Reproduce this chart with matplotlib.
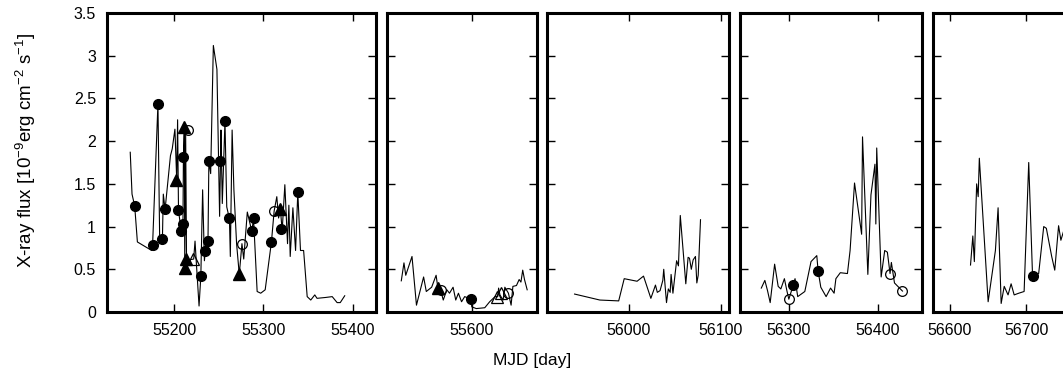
import numpy as np
import matplotlib
matplotlib.use('Agg')
import matplotlib.pyplot as plt

plt.rcParams['font.family'] = ['Liberation Sans', 'DejaVu Sans']
plt.rcParams['mathtext.fontset'] = 'custom'
plt.rcParams['mathtext.rm'] = 'Liberation Sans'
plt.rcParams['mathtext.default'] = 'regular'

# ---- panel 1 (55125-55425) ----
p1_line_mjd = [55151, 55153, 55156, 55159, 55175, 55176, 55182, 55184, 55187, 55188,
               55190, 55196, 55198, 55201, 55203, 55204, 55205, 55208, 55210, 55210.5,
               55211.5, 55212, 55213, 55214, 55217, 55222, 55223.5, 55225, 55228, 55230,
               55232, 55234, 55235, 55236, 55238, 55239, 55241, 55244, 55248, 55251,
               55252, 55252.5, 55254, 55257, 55259, 55262, 55263, 55265, 55267, 55270,
               55273, 55276, 55278, 55282, 55287, 55289, 55293, 55297, 55302, 55309,
               55312, 55315, 55317, 55319, 55321, 55324, 55327, 55328.5, 55330, 55333,
               55336, 55338.5, 55341.5, 55345, 55349, 55353, 55357.5, 55360, 55369.5, 55377,
               55382.5, 55386, 55391]
p1_line_flux = [1.87, 1.38, 1.24, 0.82, 0.72, 0.78, 2.44, 0.80, 0.85, 1.38,
                1.20, 1.83, 1.91, 2.14, 1.55, 2.25, 1.19, 0.95, 1.03, 1.82,
                2.15, 0.55, 2.10, 0.60, 0.61, 0.62, 0.83, 0.57, 0.07, 0.42,
                1.43, 0.60, 0.71, 0.88, 0.83, 1.77, 1.62, 3.12, 2.84, 1.12,
                1.77, 2.13, 1.27, 2.23, 1.23, 1.09, 0.65, 2.13, 1.43, 0.80,
                0.44, 0.80, 0.62, 1.17, 0.945, 1.09, 0.24, 0.22, 0.26, 0.82,
                1.18, 1.35, 1.10, 1.21, 0.95, 1.49, 0.80, 1.25, 0.65, 1.22,
                0.72, 1.40, 0.72, 0.72, 0.18, 0.14, 0.20, 0.16, 0.17, 0.18,
                0.11, 0.11, 0.19]
p1_fc_mjd = [55156, 55176, 55182, 55187, 55190, 55205, 55208, 55210, 55210.5, 55230,
             55235, 55238, 55239, 55252, 55257, 55262, 55287, 55289, 55309, 55320, 55338.5]
p1_fc_flux = [1.24, 0.78, 2.44, 0.85, 1.20, 1.19, 0.95, 1.03, 1.82, 0.42,
              0.71, 0.83, 1.77, 1.77, 2.23, 1.10, 0.945, 1.10, 0.82, 0.97, 1.40]
p1_oc_mjd = [55216, 55276, 55312]
p1_oc_flux = [2.13, 0.80, 1.18]
p1_ft_mjd = [55202.6, 55211.5, 55213, 55212.6, 55273, 55319]
p1_ft_flux = [1.55, 2.16, 0.62, 0.51, 0.44, 1.21]
p1_ot_mjd = [55221.5]
p1_ot_flux = [0.62]

# ---- panel 2 (55505-55673) ----
p2_line_mjd = [55521, 55524, 55526, 55533, 55538, 55546, 55549, 55555, 55560, 55562,
               55565, 55568, 55572, 55575, 55579, 55582, 55585, 55588.5, 55592, 55599,
               55600, 55605, 55614.5, 55620, 55626, 55629, 55630, 55631.5, 55635, 55637,
               55641, 55644, 55646, 55650, 55653, 55655, 55657, 55659, 55662]
p2_line_flux = [0.365, 0.575, 0.43, 0.65, 0.08, 0.41, 0.24, 0.29, 0.43, 0.28,
                0.26, 0.14, 0.26, 0.22, 0.29, 0.14, 0.22, 0.12, 0.18, 0.15,
                0.06, 0.04, 0.05, 0.12, 0.18, 0.18, 0.28, 0.20, 0.14, 0.29,
                0.22, 0.08, 0.30, 0.31, 0.38, 0.35, 0.49, 0.38, 0.26]
p2_fc_mjd = [55599]
p2_fc_flux = [0.15]
p2_oc_mjd = [55565, 55641]
p2_oc_flux = [0.26, 0.22]
p2_ft_mjd = [55562]
p2_ft_flux = [0.28]
p2_ot_mjd = [55628, 55633]
p2_ot_flux = [0.18, 0.22]

# ---- panel 3 (55911-56109) ----
p3_line_mjd = [55941, 55968.5, 55989, 55995, 56009, 56016, 56024, 56029, 56031, 56034,
               56037, 56038, 56041, 56043, 56045, 56046, 56048, 56052, 56054, 56056,
               56062, 56064.5, 56066, 56068, 56070, 56072.5, 56074, 56075.5, 56078]
p3_line_flux = [0.21, 0.14, 0.13, 0.39, 0.36, 0.42, 0.16, 0.315, 0.23, 0.25,
                0.37, 0.50, 0.11, 0.27, 0.23, 0.44, 0.22, 0.60, 0.54, 1.13,
                0.33, 0.64, 0.63, 0.50, 0.61, 0.65, 0.34, 0.43, 1.08]

# ---- panel 4 (56245-56450) ----
p4_line_mjd = [56269, 56273, 56276, 56279, 56284, 56288, 56291, 56295, 56298, 56300,
               56305, 56307, 56310, 56318, 56325, 56331.5, 56333, 56336, 56342, 56347,
               56351, 56353, 56358, 56366, 56369, 56374, 56382, 56383, 56389, 56392.5,
               56397, 56398, 56399, 56404, 56408, 56411, 56414, 56415.5, 56419, 56428]
p4_line_flux = [0.28, 0.37, 0.25, 0.11, 0.56, 0.30, 0.27, 0.39, 0.24, 0.15,
                0.315, 0.39, 0.18, 0.24, 0.59, 0.66, 0.48, 0.29, 0.18, 0.28,
                0.22, 0.39, 0.46, 0.45, 0.72, 1.51, 0.91, 2.05, 0.44, 1.37,
                1.73, 1.03, 1.92, 0.41, 0.72, 0.70, 0.45, 0.58, 0.34, 0.245]
p4_fc_mjd = [56305, 56333]
p4_fc_flux = [0.315, 0.48]
p4_oc_mjd = [56300, 56414, 56428]
p4_oc_flux = [0.15, 0.45, 0.245]

# ---- panel 5 (56578-...) ----
p5_line_mjd = [56627, 56630, 56632, 56635, 56637, 56638.5, 56650, 56659.5, 56663, 56667,
               56671, 56676, 56680, 56684, 56690, 56697, 56703, 56708, 56712, 56716,
               56722.6, 56726, 56733, 56737, 56742, 56745, 56749]
p5_line_flux = [0.55, 0.89, 0.59, 1.50, 1.35, 1.80, 0.12, 0.72, 1.22, 0.10,
                0.30, 0.20, 0.33, 0.20, 0.22, 0.24, 1.75, 0.42, 0.43, 0.45,
                1.00, 0.98, 0.65, 0.49, 1.01, 0.84, 0.96]
p5_fc_mjd = [56708]
p5_fc_flux = [0.42]

panels = [
    dict(rect=(107, 376), xlim=(55125, 55426), xt=[55200, 55300, 55400],
         line=(p1_line_mjd, p1_line_flux), fc=(p1_fc_mjd, p1_fc_flux),
         oc=(p1_oc_mjd, p1_oc_flux), ft=(p1_ft_mjd, p1_ft_flux), ot=(p1_ot_mjd, p1_ot_flux)),
    dict(rect=(387, 537), xlim=(55505, 55673), xt=[55600],
         line=(p2_line_mjd, p2_line_flux), fc=(p2_fc_mjd, p2_fc_flux),
         oc=(p2_oc_mjd, p2_oc_flux), ft=(p2_ft_mjd, p2_ft_flux), ot=(p2_ot_mjd, p2_ot_flux)),
    dict(rect=(547, 729), xlim=(55911, 56109), xt=[56000, 56100],
         line=(p3_line_mjd, p3_line_flux)),
    dict(rect=(740, 922), xlim=(56245, 56450), xt=[56300, 56400],
         line=(p4_line_mjd, p4_line_flux), fc=(p4_fc_mjd, p4_fc_flux),
         oc=(p4_oc_mjd, p4_oc_flux)),
    dict(rect=(933, 1103), xlim=(56578, 56800), xt=[56600, 56700],
         line=(p5_line_mjd, p5_line_flux), fc=(p5_fc_mjd, p5_fc_flux)),
]

W, H = 1063, 376
fig = plt.figure(figsize=(W / 100, H / 100), dpi=100)
top_px, bot_px = 13, 312

for i, p in enumerate(panels):
    x0, x1 = p['rect']
    ax = fig.add_axes([x0 / W, 1 - bot_px / H, (x1 - x0) / W, (bot_px - top_px) / H])
    lx, ly = p['line']
    ax.plot(lx, ly, color='black', lw=0.8, zorder=2)
    if 'fc' in p:
        ax.plot(*p['fc'], 'o', color='black', ms=7, zorder=3)
    if 'oc' in p:
        ax.plot(*p['oc'], 'o', mfc='none', mec='black', mew=0.9, ms=7, zorder=3)
    if 'ft' in p:
        ax.plot(*p['ft'], '^', color='black', ms=8.5, zorder=3)
    if 'ot' in p:
        ax.plot(*p['ot'], '^', mfc='none', mec='black', mew=0.9, ms=8, zorder=3)
    ax.set_xlim(*p['xlim'])
    ax.set_ylim(0, 3.5)
    ax.set_xticks(p['xt'])
    ax.set_yticks(np.arange(0, 3.51, 0.5))
    if i == 0:
        ax.set_yticklabels(['0', '0.5', '1', '1.5', '2', '2.5', '3', '3.5'])
    else:
        ax.set_yticklabels([])
    ax.tick_params(direction='in', length=6, width=1.0, top=True, right=True,
                   labelsize=11.5, pad=8)
    for s in ax.spines.values():
        s.set_linewidth(2.2)

fig.text(532 / W, 1 - 361 / H, 'MJD [day]', ha='center', va='center', fontsize=12.5)
fig.text(26 / W, 1 - 150 / H,
         'X-ray flux [10$^{-9}$erg cm$^{-2}$ s$^{-1}$]',
         rotation=90, ha='center', va='center', fontsize=13.5)

fig.savefig('out.png', dpi=100)
